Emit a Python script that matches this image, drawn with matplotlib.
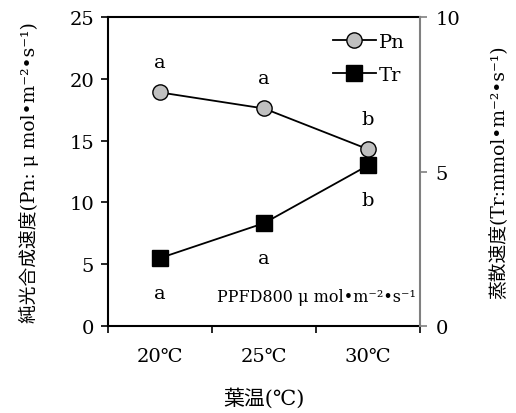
import matplotlib
matplotlib.use("Agg")
import matplotlib.pyplot as plt

plt.rcParams['font.family'] = ['DejaVu Serif', 'Noto Sans CJK JP']

categories = ['20℃', '25℃', '30℃']
pn = [18.9, 17.6, 14.3]
tr = [2.2, 3.33, 5.2]
pn_letters = ['a', 'a', 'b']
tr_letters = ['a', 'a', 'b']

fig = plt.figure(figsize=(5.16, 4.14), dpi=100)
ax = fig.add_axes([0.2093, 0.210, 0.605, 0.7465])
ax2 = ax.twinx()

x = [1, 2, 3]
l1, = ax.plot(x, pn, '-o', color='black', lw=1.3, markersize=11,
              markerfacecolor='#c0c0c0', markeredgecolor='black', markeredgewidth=1.0, zorder=3)
l2, = ax2.plot(x, tr, '-s', color='black', lw=1.3, markersize=11,
               markerfacecolor='black', markeredgecolor='black', zorder=3)

ax.set_xlim(0.5, 3.5)
ax.set_ylim(0, 25)
ax2.set_ylim(0, 10)
ax.set_yticks([0, 5, 10, 15, 20, 25])
ax2.set_yticks([0, 5, 10])
ax.set_xticks([0.5, 1.5, 2.5, 3.5])
ax.set_xticklabels([])
ax.set_xticks(x, minor=True)
ax.set_xticklabels(categories, minor=True)
ax.tick_params(axis='x', which='minor', length=0, pad=15, labelsize=14)
ax.tick_params(axis='x', which='major', length=5, direction='out', width=1.2)
ax.tick_params(axis='y', length=5, direction='out', width=1.2, labelsize=14, pad=5)
ax2.tick_params(axis='y', length=5, direction='out', width=1.2, color='#808080', labelsize=14, pad=6)

for sp in ['left', 'bottom', 'top']:
    ax.spines[sp].set_linewidth(1.5)
ax2.spines['right'].set_color('#808080')
ax2.spines['right'].set_linewidth(1.5)
ax2.spines['left'].set_visible(False)
ax2.spines['top'].set_visible(False)
ax2.spines['bottom'].set_visible(False)
ax.spines['right'].set_visible(False)

for xi, v, t in zip(x, pn, pn_letters):
    ax.annotate(t, (xi, v), xytext=(0, 21.6), textcoords='offset points',
                ha='center', va='center', fontsize=14)
for xi, v, t in zip(x, tr, tr_letters):
    ax2.annotate(t, (xi, v), xytext=(0, -25), textcoords='offset points',
                 ha='center', va='center', fontsize=14)

ax.text(0.985, 0.095, 'PPFD800 μ mol•m⁻²•s⁻¹', transform=ax.transAxes,
        ha='right', va='center', fontsize=11.5)

ax2.legend([l1, l2], ['Pn', 'Tr'], loc='upper right', frameon=False, fontsize=14,
           handlelength=2.2, handletextpad=0.15, borderaxespad=0.4, labelspacing=0.8)

ax.set_ylabel('純光合成速度(Pn: μ mol•m⁻²•s⁻¹)', fontsize=13.5, labelpad=22)
ax2.set_ylabel('蒸散速度(Tr:mmol•m⁻²•s⁻¹)', fontsize=13.5, labelpad=21)
ax.set_xlabel('葉温(℃)', fontsize=15, labelpad=16)

fig.savefig('out.png', dpi=100)
